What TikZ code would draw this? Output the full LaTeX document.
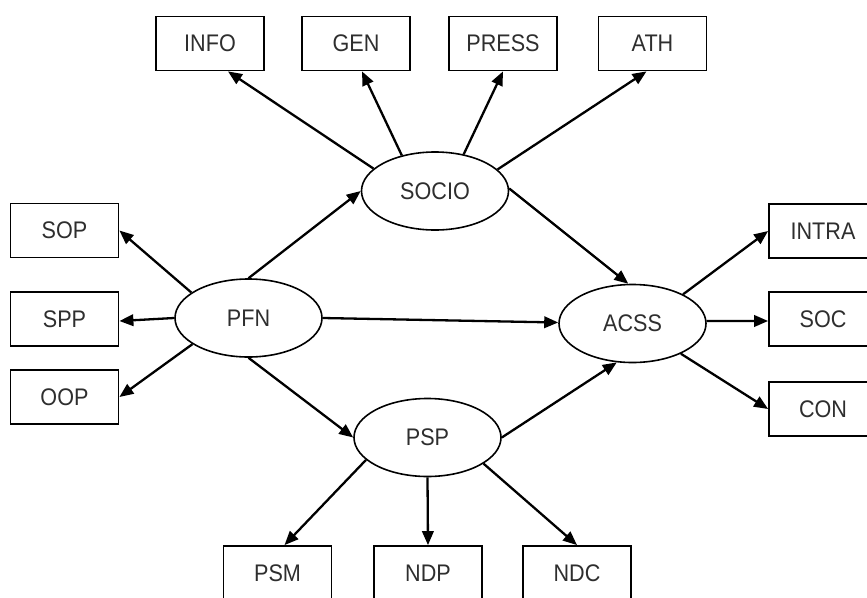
\documentclass[tikz,border=0pt]{standalone}
\usepackage{fontspec}
\setmainfont{Liberation Sans}[FakeStretch=0.9]
\usetikzlibrary{shapes.geometric,arrows.meta}
\begin{document}
\begin{tikzpicture}[x=1pt,y=-1pt,
  lbl/.style={font=\fontsize{24}{27}\selectfont, text=black!82},
  obs/.style={lbl, draw, line width=1.8pt, minimum width=108pt, minimum height=54pt, inner sep=0pt},
  lat/.style={lbl, ellipse, draw, line width=1.6pt, minimum width=147pt, minimum height=78pt, inner sep=0pt},
  link/.style={line width=2.3pt, -{Triangle[length=14pt,width=11.5pt]}}]
\useasboundingbox (0,0) rectangle (867,597);
\clip (0,0) rectangle (867,597);

% latent variables
\node[lat] (socio) at (435,191)   {SOCIO};
\node[lat] (pfn)   at (248.5,318) {PFN};
\node[lat] (acss)  at (632.5,323.5) {ACSS};
\node[lat] (psp)   at (427.5,437.5) {PSP};

% indicators
\node[obs] (info)  at (210,43.5)   {INFO};
\node[obs] (gen)   at (356,43.5)   {GEN};
\node[obs] (press) at (503,43.5)   {PRESS};
\node[obs] (ath)   at (652.5,43.5) {ATH};
\node[obs] (sop)   at (64.5,230.5) {SOP};
\node[obs] (spp)   at (64.5,319)   {SPP};
\node[obs] (oop)   at (64.5,397)   {OOP};
\node[obs] (intra) at (823,231)    {INTRA};
\node[obs] (soc)   at (823,319)    {SOC};
\node[obs] (con)   at (823,409)    {CON};
\node[obs] (psm)   at (277.5,573)  {PSM};
\node[obs] (ndp)   at (428,573)    {NDP};
\node[obs] (ndc)   at (577,573)    {NDC};

% structural paths
\draw[link] (pfn.0)    -- ([yshift=1pt]acss.180);
\draw[link] (pfn.90)   -- (socio.180);
\draw[link] (pfn.270)  -- (psp.180);
\draw[link] (socio.2)  -- (acss.96);
\draw[link] (psp.0)    -- (acss.248);

% measurement paths
\draw[link] (socio.160) -- ([xshift=18pt]info.south);
\draw[link] (socio.133) -- ([xshift=6pt]gen.south);
\draw[link] (socio.52)  -- (press.south);
\draw[link] (socio.19)  -- ([xshift=-6pt]ath.south);
\draw[link] (pfn.156)   -- (sop.east);
\draw[link] (pfn.180)   -- ([yshift=-2pt]spp.east);
\draw[link] (pfn.205)   -- (oop.east);
\draw[link] (acss.30)   -- (intra.west);
\draw[link] (acss.2)    -- ([yshift=-2pt]soc.west);
\draw[link] (acss.328)  -- (con.west);
\draw[link] (psp.200)   -- ([xshift=7pt]psm.north);
\draw[link] (psp.270)   -- (ndp.north);
\draw[link] (psp.335)   -- (ndc.north);
\end{tikzpicture}
\end{document}
